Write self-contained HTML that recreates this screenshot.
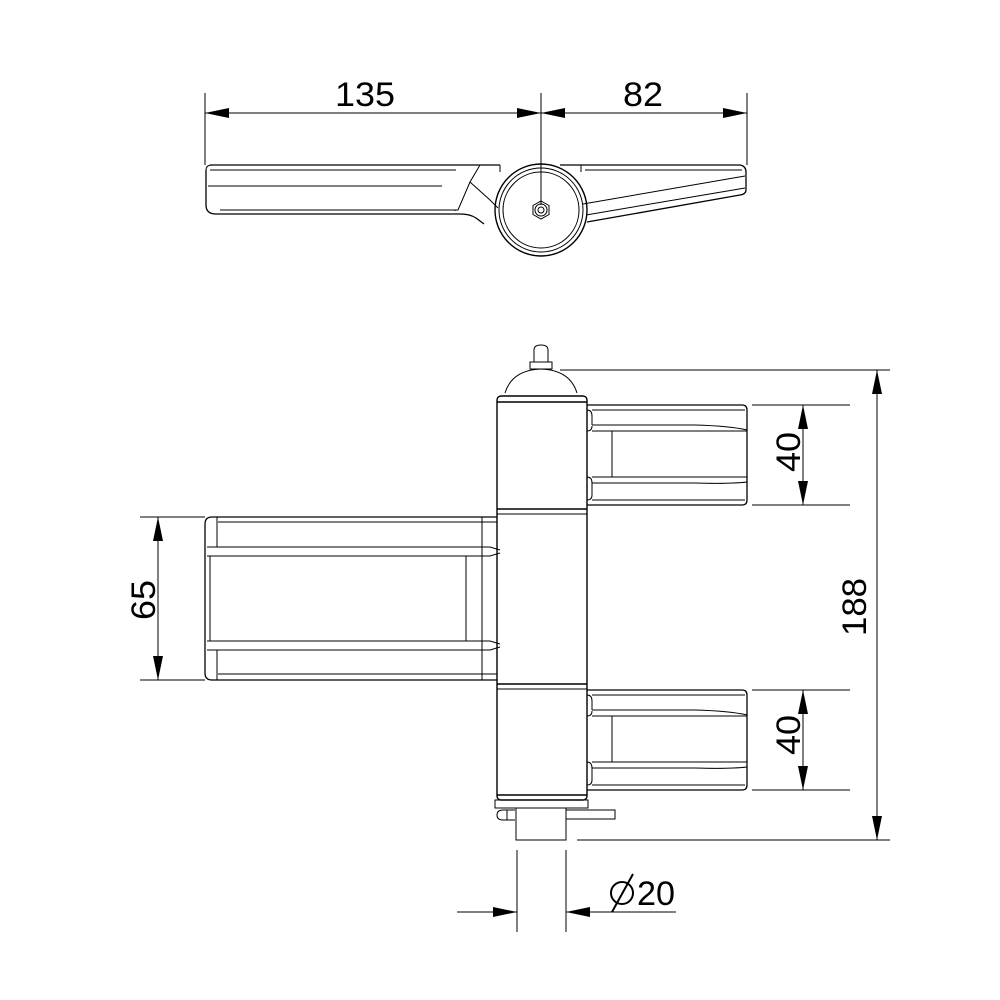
<!DOCTYPE html>
<html><head><meta charset="utf-8"><style>html,body{margin:0;padding:0;background:#fff}svg{display:block}</style></head>
<body>
<svg width="1000" height="1000" viewBox="0 0 1000 1000" xmlns="http://www.w3.org/2000/svg" font-family="Liberation Sans, sans-serif">
<defs>
<marker id="a" viewBox="0 0 24 10" refX="24" refY="5" markerWidth="24" markerHeight="10" markerUnits="userSpaceOnUse" orient="auto-start-reverse"><path d="M0,0L24,5L0,10z" fill="#000"/></marker>
</defs>
<g stroke="#000" stroke-width="1" fill="none">
<!-- top view dims -->
<line x1="205" y1="93" x2="205" y2="165"/><line x1="541" y1="93" x2="541" y2="205"/><line x1="747" y1="93" x2="747" y2="165"/>
<line x1="205" y1="113" x2="541" y2="113" marker-start="url(#a)" marker-end="url(#a)"/>
<line x1="541" y1="113" x2="747" y2="113" marker-start="url(#a)" marker-end="url(#a)"/>
<!-- left arm top view -->
<path d="M210,165 H500 M206,170 V205 Q206,214 216,214 H460 Q470,214 476,218 L484,224" stroke-width="1.3"/>
<path d="M206,170 Q206,165 212,165"/>
<line x1="210" y1="170" x2="456" y2="170"/>
<line x1="208" y1="186" x2="442" y2="186"/>
<path d="M455,210 L455,211 M220,210 H458 L470,182 L480,165"/>
<path d="M470,182 L490,200 L498,208"/>
<!-- hub -->
<circle cx="541" cy="210" r="46" stroke-width="1.4"/>
<circle cx="541" cy="210" r="42"/>
<circle cx="541" cy="210" r="38"/>
<path d="M541,201 l8,4.5 v9 l-8,4.5 l-8,-4.5 v-9z"/>
<circle cx="541" cy="210" r="6"/><circle cx="541" cy="210" r="3"/>
<!-- right arm -->
<path d="M560,165 H740 Q746,166 746,172 V190 Q746,194 740,195 L587,222" stroke-width="1.3"/>
<line x1="585" y1="170" x2="742" y2="170"/>
<path d="M583,204 L745,176"/>
<path d="M586,215 L745,188"/>
<line x1="581" y1="165" x2="581" y2="172"/><line x1="500" y1="165" x2="500" y2="172"/>
<!-- front view: nipple & dome -->
<path d="M534,362 V350 Q534,345 541,345 Q548,345 548,350 V362"/>
<rect x="530" y="362" width="22" height="7"/>
<path d="M505,393 Q512,370 541,369 Q570,370 577,393"/>
<line x1="560" y1="370" x2="890" y2="370"/>
<!-- barrel -->
<rect x="497" y="396" width="90" height="404" rx="4" stroke-width="1.4"/>
<line x1="497" y1="402" x2="587" y2="402" stroke-width="1.4"/>
<line x1="497" y1="509" x2="587" y2="509" stroke-width="1.6"/>
<line x1="497" y1="514" x2="587" y2="514"/>
<line x1="497" y1="684" x2="587" y2="684" stroke-width="1.4"/>
<line x1="497" y1="689" x2="587" y2="689"/>
<line x1="497" y1="795" x2="587" y2="795" stroke-width="1.4"/>
<!-- upper right leaf -->
<g id="rl">
<path d="M587,405 H742 Q747,405 747,410 V500 Q747,505 742,505 H587" stroke-width="1.3"/>
<line x1="592" y1="410" x2="745" y2="410"/>
<path d="M592,425 H695 Q730,426 747,430 M592,431 H747"/>
<path d="M592,477 H747 M592,483 H695 Q730,484 747,482 M592,500 H745"/>
<line x1="612" y1="431" x2="612" y2="477"/>
<path d="M587,410 Q592,410 592,416 V425 M587,431 Q592,431 592,426 M587,477 Q592,477 592,483 M587,500 Q592,500 592,495 V483"/>
</g>
<use href="#rl" transform="translate(0,285)"/>
<!-- left leaf -->
<path d="M497,517 H212 Q205,517 205,524 V673 Q205,680 212,680 H497" stroke-width="1.3"/>
<line x1="218" y1="522" x2="497" y2="522"/>
<path d="M207,547 H490 L500,550 M207,556 H490 L500,553"/>
<path d="M207,641 H490 L500,644 M207,650 H490 L500,647"/>
<line x1="218" y1="674" x2="497" y2="674"/>
<line x1="217" y1="517" x2="217" y2="547"/><line x1="217" y1="650" x2="217" y2="680"/>
<line x1="210" y1="556" x2="210" y2="641"/>
<line x1="466" y1="556" x2="466" y2="641"/>
<line x1="482" y1="517" x2="482" y2="680"/>
<!-- bottom -->
<rect x="495" y="800" width="93" height="8"/>
<rect x="516" y="808" width="50" height="32"/>
<rect x="566" y="810" width="49" height="9"/>
<path d="M515,810 H503 Q497,810 497,815 Q497,820 503,820 H515 M507,810 V820"/>
<line x1="577" y1="840" x2="890" y2="840"/>
<!-- dims -->
<line x1="877" y1="370" x2="877" y2="840" marker-start="url(#a)" marker-end="url(#a)"/>
<line x1="752" y1="405" x2="850" y2="405"/><line x1="752" y1="505" x2="850" y2="505"/>
<line x1="803" y1="405" x2="803" y2="505" marker-start="url(#a)" marker-end="url(#a)"/>
<line x1="752" y1="690" x2="850" y2="690"/><line x1="752" y1="790" x2="850" y2="790"/>
<line x1="803" y1="690" x2="803" y2="790" marker-start="url(#a)" marker-end="url(#a)"/>
<line x1="140" y1="517" x2="205" y2="517"/><line x1="140" y1="680" x2="205" y2="680"/>
<line x1="158" y1="517" x2="158" y2="680" marker-start="url(#a)" marker-end="url(#a)"/>
<line x1="517" y1="850" x2="517" y2="932"/><line x1="566" y1="850" x2="566" y2="932"/>
<line x1="457" y1="912" x2="517" y2="912" marker-end="url(#a)"/>
<line x1="676" y1="912" x2="566" y2="912" marker-end="url(#a)"/>
</g>
<g font-size="34" fill="#000">
<text x="365" y="106" text-anchor="middle" textLength="60" lengthAdjust="spacingAndGlyphs">135</text>
<text x="643" y="106" text-anchor="middle" textLength="40" lengthAdjust="spacingAndGlyphs">82</text>
<text transform="translate(800,452) rotate(-90)" text-anchor="middle" textLength="40" lengthAdjust="spacingAndGlyphs">40</text>
<text transform="translate(800,735) rotate(-90)" text-anchor="middle" textLength="40" lengthAdjust="spacingAndGlyphs">40</text>
<text transform="translate(155,600) rotate(-90)" text-anchor="middle" textLength="40" lengthAdjust="spacingAndGlyphs">65</text>
<text transform="translate(866,607) rotate(-90)" text-anchor="middle" textLength="58" lengthAdjust="spacingAndGlyphs">188</text>
<text x="637" y="905" text-anchor="start" textLength="38" lengthAdjust="spacingAndGlyphs">20</text>
</g>
<g stroke="#000" stroke-width="2" fill="none">
<circle cx="622" cy="893" r="11"/><line x1="612" y1="912" x2="633" y2="874"/>
</g>
</svg>
</body></html>
